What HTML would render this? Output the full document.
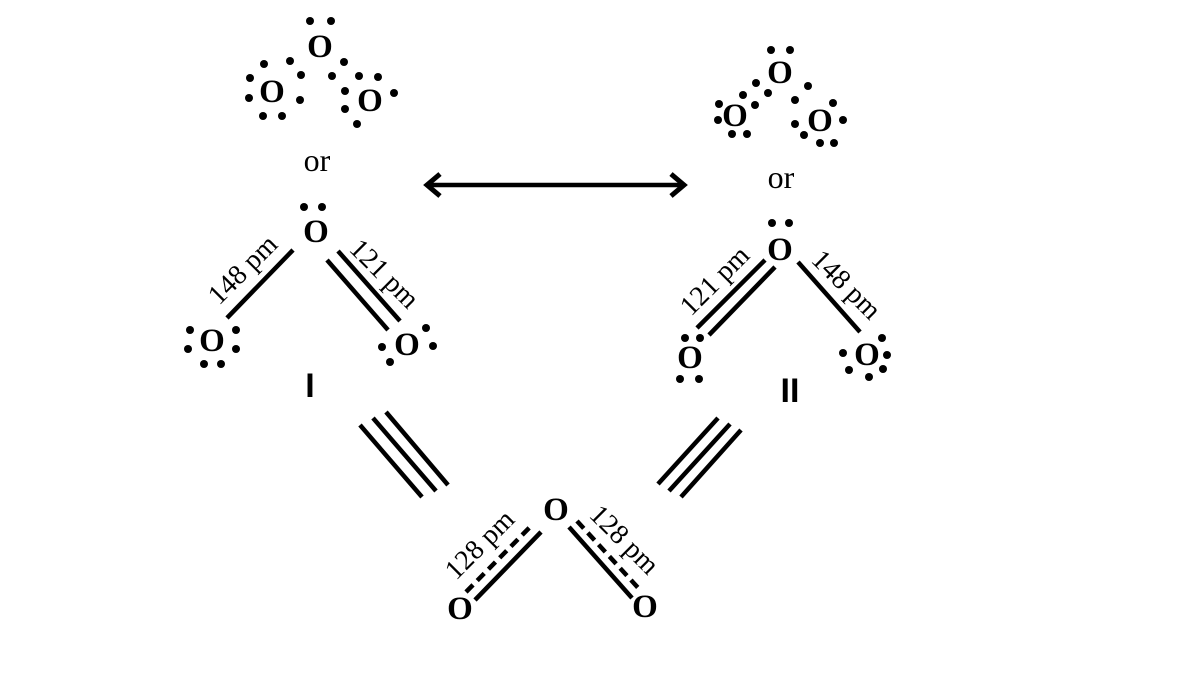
<!DOCTYPE html>
<html><head><meta charset="utf-8"><style>
html,body{margin:0;padding:0;background:#fff;}
svg{display:block;}
.o{font-family:"Liberation Serif",serif;font-weight:bold;font-size:33px;text-anchor:middle;dominant-baseline:central;fill:#000;}
.l{font-family:"Liberation Serif",serif;font-size:28px;text-anchor:middle;dominant-baseline:central;fill:#000;}
.or{font-family:"Liberation Serif",serif;font-size:32px;text-anchor:middle;dominant-baseline:central;fill:#000;}
.n{font-family:"Liberation Sans",sans-serif;font-weight:bold;font-size:34px;text-anchor:middle;dominant-baseline:central;fill:#000;}
line{stroke:#000;stroke-width:4.5;stroke-linecap:butt;}
circle{fill:#000;}
</style></head><body>
<svg width="1200" height="675" viewBox="0 0 1200 675" xmlns="http://www.w3.org/2000/svg">
<text class="o" x="320" y="47">O</text>
<text class="o" x="272" y="92">O</text>
<text class="o" x="370" y="101">O</text>
<g>
<circle cx="310" cy="21" r="4"/><circle cx="331" cy="21" r="4"/>
<circle cx="264" cy="64" r="4"/><circle cx="290" cy="61" r="4"/>
<circle cx="250" cy="78" r="4"/><circle cx="249" cy="98" r="4"/>
<circle cx="301" cy="75" r="4"/><circle cx="300" cy="100" r="4"/>
<circle cx="263" cy="116" r="4"/><circle cx="282" cy="116" r="4"/>
<circle cx="332" cy="76" r="4"/><circle cx="344" cy="62" r="4"/>
<circle cx="359" cy="76" r="4"/><circle cx="378" cy="77" r="4"/>
<circle cx="394" cy="93" r="4"/><circle cx="345" cy="91" r="4"/>
<circle cx="345" cy="109" r="4"/><circle cx="357" cy="124" r="4"/>
</g>
<text class="or" x="317" y="160">or</text>

<line x1="428" y1="185" x2="683" y2="185"/>
<polyline points="440,174 427,185 440,196" fill="none" stroke="#000" stroke-width="5"/>
<polyline points="671,174 684,185 671,196" fill="none" stroke="#000" stroke-width="5"/>

<text class="o" x="316" y="232">O</text>
<circle cx="304" cy="207" r="4"/><circle cx="322" cy="207" r="4"/>
<line x1="293" y1="250" x2="227" y2="318"/>
<line x1="327" y1="260" x2="388" y2="330"/>
<line x1="338" y1="251" x2="400" y2="321"/>
<text class="o" x="212" y="341">O</text>
<circle cx="190" cy="330" r="4"/><circle cx="188" cy="349" r="4"/>
<circle cx="236" cy="330" r="4"/><circle cx="236" cy="349" r="4"/>
<circle cx="204" cy="364" r="4"/><circle cx="221" cy="364" r="4"/>
<text class="o" x="407" y="345">O</text>
<circle cx="426" cy="328" r="4"/><circle cx="433" cy="346" r="4"/>
<circle cx="382" cy="347" r="4"/><circle cx="390" cy="362" r="4"/>
<text class="l" transform="translate(243,270) rotate(-45)">148 pm</text>
<text class="l" transform="translate(384,274) rotate(45)">121 pm</text>
<text class="n" x="310" y="386">I</text>

<line x1="360" y1="425" x2="422" y2="497"/>
<line x1="373" y1="418" x2="436" y2="491"/>
<line x1="386" y1="412" x2="448" y2="485"/>

<text class="o" x="780" y="73">O</text>
<text class="o" x="735" y="116">O</text>
<text class="o" x="820" y="121">O</text>
<g>
<circle cx="771" cy="50" r="4"/><circle cx="790" cy="50" r="4"/>
<circle cx="756" cy="83" r="4"/><circle cx="768" cy="93" r="4"/>
<circle cx="743" cy="95" r="4"/><circle cx="755" cy="105" r="4"/>
<circle cx="719" cy="104" r="4"/><circle cx="718" cy="120" r="4"/>
<circle cx="732" cy="134" r="4"/><circle cx="747" cy="134" r="4"/>
<circle cx="808" cy="86" r="4"/><circle cx="795" cy="100" r="4"/>
<circle cx="795" cy="124" r="4"/><circle cx="833" cy="103" r="4"/>
<circle cx="843" cy="120" r="4"/><circle cx="820" cy="143" r="4"/>
<circle cx="834" cy="143" r="4"/><circle cx="804" cy="135" r="4"/>
</g>
<text class="or" x="781" y="177">or</text>

<text class="o" x="780" y="250">O</text>
<circle cx="772" cy="223" r="4"/><circle cx="789" cy="223" r="4"/>
<line x1="697" y1="328" x2="765" y2="260"/>
<line x1="709" y1="335" x2="775" y2="267"/>
<line x1="798" y1="262" x2="860" y2="332"/>
<text class="o" x="690" y="358">O</text>
<circle cx="685" cy="338" r="4"/><circle cx="700" cy="338" r="4"/>
<circle cx="680" cy="379" r="4"/><circle cx="699" cy="379" r="4"/>
<text class="o" x="867" y="355">O</text>
<circle cx="843" cy="353" r="4"/><circle cx="849" cy="370" r="4"/>
<circle cx="882" cy="338" r="4"/><circle cx="887" cy="355" r="4"/>
<circle cx="883" cy="369" r="4"/><circle cx="869" cy="377" r="4"/>
<text class="l" transform="translate(715,281) rotate(-45)">121 pm</text>
<text class="l" transform="translate(846,285) rotate(45)">148 pm</text>
<text class="n" x="790" y="391">II</text>

<line x1="658" y1="484" x2="718" y2="418"/>
<line x1="669" y1="491" x2="730" y2="424"/>
<line x1="681" y1="497" x2="741" y2="430"/>

<text class="o" x="556" y="510">O</text>
<text class="o" x="460" y="609">O</text>
<text class="o" x="645" y="607">O</text>
<line x1="475" y1="600" x2="541" y2="532"/>
<line x1="466" y1="592" x2="533" y2="524" stroke-dasharray="10,6"/>
<line x1="569" y1="527" x2="632" y2="598"/>
<line x1="577" y1="521" x2="641" y2="591" stroke-dasharray="10,6"/>
<text class="l" transform="translate(480,545) rotate(-45)">128 pm</text>
<text class="l" transform="translate(624,540) rotate(45)">128 pm</text>
</svg>
</body></html>
